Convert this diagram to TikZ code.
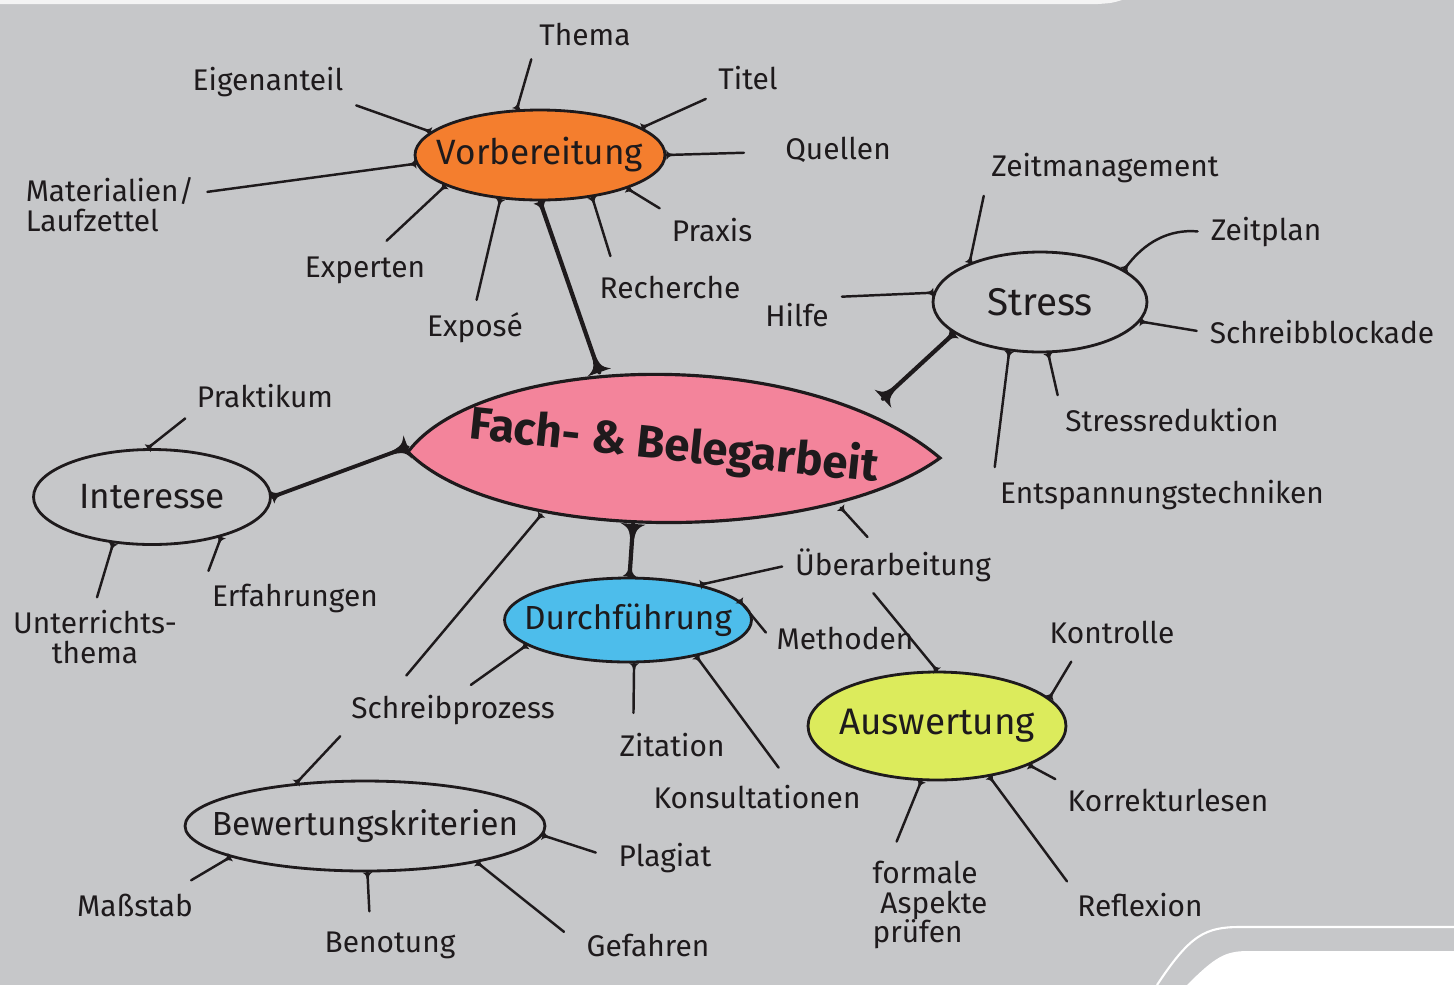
\documentclass[tikz,border=0pt]{standalone}
\usepackage{fontspec}
\setmainfont{Fira Sans}
\usetikzlibrary{shapes.geometric, decorations.markings}

\definecolor{paper}{HTML}{C6C7C9}
\definecolor{ink}{HTML}{1E1A1C}
\definecolor{orangefill}{HTML}{F47E2E}
\definecolor{pinkfill}{HTML}{F3849B}
\definecolor{bluefill}{HTML}{4DBDEB}
\definecolor{limefill}{HTML}{DCEB5C}

% text that does not widen its ellipse
\newcommand{\ovaltext}[1]{\makebox[0pt]{#1}}

\begin{document}
\begin{tikzpicture}[x=0.02cm, y=-0.02cm, ink,
  every node/.style={font=\fontsize{17}{18}\selectfont},
  topic/.style={ellipse, draw, line width=1.6pt, inner sep=0pt, font=\fontsize{20}{22}\selectfont},
  spoke/.style={line width=1.4pt, line cap=round, shorten >=4pt, postaction={decorate},
    decoration={markings, mark=at position 0 with
      {\fill (0,-2.8pt) .. controls (1.5pt,-0.7pt) .. (7pt,0) .. controls (1.5pt,0.7pt) .. (0,2.8pt) -- cycle;}}},
  branch/.style={line width=2.4pt, line cap=round, postaction={decorate},
    decoration={markings,
      mark=at position 0 with
        {\fill (0,-7pt) .. controls (3pt,-1.4pt) .. (20pt,0) .. controls (3pt,1.4pt) .. (0,7pt) -- cycle;},
      mark=at position 1 with
        {\fill (0,-4pt) .. controls (-2pt,-1.2pt) .. (-10pt,0) .. controls (-2pt,1.2pt) .. (0,4pt) -- cycle;}}}]

% page
\useasboundingbox (0,0) rectangle (1454,985);
\fill[paper] (0,0) rectangle (1454,985);
\fill[white!80!paper] (0,0) -- (1122,0) .. controls (1112,3) .. (1098,4) -- (0,4) -- cycle;
\draw[white, line width=1.2pt] (1157,985) .. controls (1190,935) and (1205,927) .. (1240,927) -- (1454,927);
\fill[white] (1187,985) .. controls (1215,957) and (1225,951) .. (1248,951) -- (1454,951) -- (1454,985) -- cycle;

% centre
\coordinate (fl) at (408,452);
\coordinate (fr) at (940,458);
\filldraw[fill=pinkfill, line width=1.8pt] (fl) .. controls (480,355) and (800,340) .. (fr)
  .. controls (820,545) and (500,545) .. (fl) -- cycle;
\node[ellipse, inner sep=0pt, minimum width=10.64cm, minimum height=3.1cm,
  font=\fontsize{26}{28}\selectfont\bfseries] (fach) at (674,447)
  {\ovaltext{\rotatebox{-6}{Fach- \& Belegarbeit}}};

% topics
\node[topic, fill=orangefill, minimum width=5cm, minimum height=1.8cm] (vorb) at (540,155) {\ovaltext{Vorbereitung}};
\node[topic, minimum width=4.28cm, minimum height=2cm, font=\fontsize{22}{24}\selectfont] (stress) at (1040,302) {\ovaltext{Stress}};
\node[topic, minimum width=4.74cm, minimum height=1.9cm] (inter) at (152,497) {\ovaltext{Interesse}};
\node[topic, fill=bluefill, minimum width=4.94cm, minimum height=1.68cm, font=\fontsize{19}{21}\selectfont] (durch) at (628,620) {\ovaltext{Durchführung}};
\node[topic, fill=limefill, minimum width=5.16cm, minimum height=2.16cm, font=\fontsize{21}{23}\selectfont] (ausw) at (937,726) {\ovaltext{Auswertung}};
\node[topic, minimum width=7.2cm, minimum height=1.8cm, font=\fontsize{19}{21}\selectfont] (bewert) at (365,826) {\ovaltext{Bewertungskriterien}};

% labels
\node (thema) at (585,35) {Thema};
\node (titel) at (748,78) {Titel};
\node (quellen) at (838,150) {Quellen};
\node (praxis) at (712,230) {Praxis};
\node (recherche) at (670,287) {Recherche};
\node (expose) at (475,328) {Exposé};
\node (experten) at (365,270) {Experten};
\node[align=left, font=\fontsize{17}{17}\selectfont] (material) at (110,205) {Materialien/\\Laufzettel};
\node (eigen) at (268,82) {Eigenanteil};
\node (zeitm) at (1105,168) {Zeitmanagement};
\node (zeitplan) at (1266,232) {Zeitplan};
\node (blockade) at (1322,332) {Schreibblockade};
\node (reduktion) at (1172,420) {Stressreduktion};
\node (entsp) at (1162,495) {Entspannungstechniken};
\node (hilfe) at (797,315) {Hilfe};
\node (praktikum) at (265,396) {Praktikum};
\node (erfahr) at (295,598) {Erfahrungen};
\node[align=center, font=\fontsize{17}{17}\selectfont] (unterricht) at (95,637) {Unterrichts-\\thema};
\node (ueber) at (893,565) {Überarbeitung};
\node (methoden) at (845,638) {Methoden};
\node (zitation) at (672,745) {Zitation};
\node (konsult) at (757,797) {Konsultationen};
\node (schreib) at (453,710) {Schreibprozess};
\node (plagiat) at (665,858) {Plagiat};
\node (gefahren) at (648,945) {Gefahren};
\node (benotung) at (390,945) {Benotung};
\node (massstab) at (135,905) {Maßstab};
\node (kontrolle) at (1112,632) {Kontrolle};
\node (korrektur) at (1168,800) {Korrekturlesen};
\node (reflexion) at (1140,905) {Reflexion};
\node[align=left, font=\fontsize{17}{17}\selectfont] (formal) at (930,905) {formale\\\ Aspekte\\prüfen};

% main branches
\draw[branch] (fach.135) -- (vorb.-90);
\draw[branch] (fach.13) -- (stress.-160);
\draw[branch, line width=2.2pt] (fach.west) -- (inter.east);
\draw[branch] (fach.-118) -- (durch.88);
\draw[spoke, shorten >=10pt] (fach.-153) -- ([xshift=1cm]schreib.north west);
\draw[spoke] (fach.-20) -- (ueber);
\draw[spoke] (ausw.north) -- ([xshift=1.6cm]ueber.south west);

% Vorbereitung
\draw[spoke] (vorb.117) -- (thema.south west);
\draw[spoke] (vorb.15) -- (titel.south west);
\draw[spoke, shorten >=20pt] (vorb.east) -- (quellen);
\draw[spoke] (vorb.-21) -- (praxis.north west);
\draw[spoke, shorten >=8pt] (vorb.-39) -- ([xshift=12pt]recherche.north west);
\draw[spoke] (vorb.-132) -- (expose.north);
\draw[spoke, shorten >=8pt] (vorb.-162) -- (experten.60);
\draw[spoke] (vorb.-176) -- (material);
\draw[spoke] (vorb.168) -- (eigen.south east);

% Stress
\draw[spoke] (stress.151) -- (zeitm.south west);
\draw[spoke] (stress.21) to[bend left=30] (zeitplan.west);
\draw[spoke] (stress.-11) -- (blockade.west);
\draw[spoke] (stress.-81) -- (reduktion.north west);
\draw[spoke] (stress.-122) -- (entsp.north west);
\draw[spoke] (stress.175) -- (hilfe.north east);

% Interesse
\draw[spoke] (inter.95) -- (praktikum.south west);
\draw[spoke] (inter.-30) -- (erfahr.north west);
\draw[spoke] (inter.-130) -- (unterricht.north);

% Durchfuehrung
\draw[spoke] (durch.26) -- (ueber.west);
\draw[spoke] (durch.10) -- (methoden.west);
\draw[spoke, shorten >=8pt] (durch.-82) -- ([xshift=0.4cm]zitation.north west);
\draw[spoke, shorten >=8pt] (durch.-28) -- ([xshift=0.6cm]konsult.north);
\draw[spoke] (durch.-166) -- (schreib.60);
\draw[spoke] (bewert.148) -- (schreib.south west);

% Bewertungskriterien
\draw[spoke, shorten >=10pt] (bewert.-3) -- (plagiat.west);
\draw[spoke, shorten >=12pt] (bewert.-18) -- (gefahren.west);
\draw[spoke, shorten >=8pt] (bewert.-87) -- ([xshift=-0.4cm]benotung.north);
\draw[spoke, shorten >=8pt] (bewert.-167) -- ([xshift=-0.4cm]massstab.north east);

% Auswertung
\draw[spoke, shorten >=8pt] (ausw.14) -- ([xshift=0.7cm]kontrolle.south west);
\draw[spoke] (ausw.-23) -- (korrektur.north west);
\draw[spoke] (ausw.-44) -- (reflexion.north west);
\draw[spoke, shorten >=8pt] (ausw.-106) -- ([xshift=0.5cm]formal.north west);
\end{tikzpicture}
\end{document}
